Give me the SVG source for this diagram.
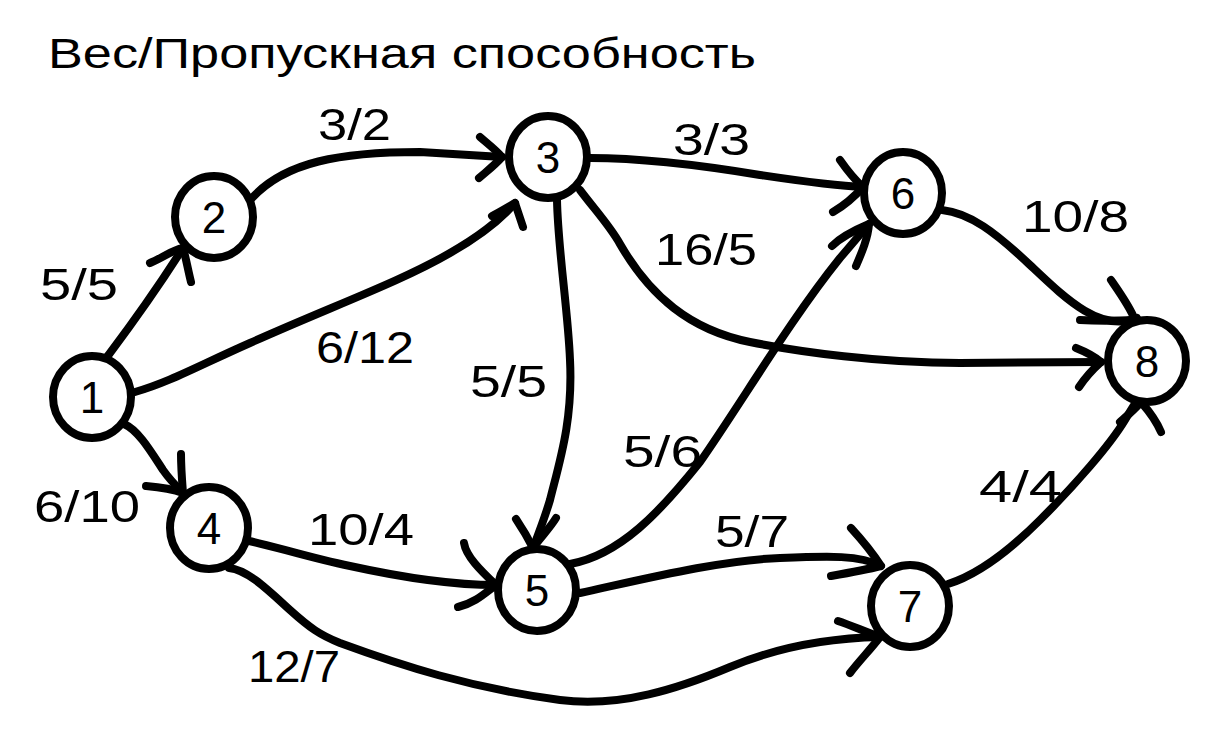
<svg xmlns="http://www.w3.org/2000/svg" width="1220" height="738" viewBox="0 0 1220 738">
<style>
.bg{fill:#fff}
.node ellipse{fill:#fff;stroke:#000;stroke-width:8}
.node text{font-family:"Liberation Sans","DejaVu Sans",sans-serif;font-size:44px;fill:#000;text-anchor:middle}
.edges path{fill:none;stroke:#000;stroke-width:8;stroke-linecap:round;stroke-linejoin:round}
.lbl{font-family:"Liberation Sans","DejaVu Sans",sans-serif;font-size:44px;fill:#000}
.title{font-family:"Liberation Sans","DejaVu Sans",sans-serif;font-size:43px;fill:#000}
</style>
<rect class="bg" x="0" y="0" width="1220" height="738"/>
<text class="title" x="48" y="68" textLength="708" lengthAdjust="spacingAndGlyphs">Вес/Пропускная способность</text>

<g id="connectors" class="edges">
  <!-- 1 -> 2 -->
  <path d="M107,357 C125,333 150,300 183,248"/>
  <path d="M150,263 C162,258 172,250 183,248 C186,258 188,270 191,282"/>
  <!-- 2 -> 3 -->
  <path d="M252,198 C285,162 340,152 420,152 L502,157"/>
  <path d="M480,137 C488,144 496,150 502,157 C495,165 487,171 479,178"/>
  <!-- 1 -> 3 -->
  <path d="M135,392 C170,382 200,365 250,343 C330,307 400,282 450,253 C480,236 502,218 515,203"/>
  <path d="M492,216 C500,212 508,207 515,203 C518,212 520,218 523,227"/>
  <!-- 3 -> 5 -->
  <path d="M557,200 C558,250 568,310 570,360 C573,420 560,460 550,500 C544,520 538,535 533,548"/>
  <path d="M516,519 C522,528 528,538 533,548 C540,538 550,528 556,518"/>
  <!-- 3 -> 6 -->
  <path d="M590,158 C640,158 700,165 760,175 C800,181 835,186 863,187"/>
  <path d="M840,160 C847,170 855,180 863,187 C856,195 845,205 833,212"/>
  <!-- 3 -> 8 -->
  <path d="M580,190 C595,210 610,226 620,244 C650,296 690,330 750,342 C800,352 880,363 960,363 L1101,362"/>
  <path d="M1076,348 C1086,352 1094,356 1101,362 C1092,370 1085,378 1079,387"/>
  <!-- 6 -> 8 -->
  <path d="M942,210 C970,213 995,232 1030,265 C1065,298 1100,333 1137,318"/>
  <path d="M1111,280 C1120,293 1130,307 1135,320 C1115,321 1095,321 1080,320"/>
  <!-- 5 -> 6 -->
  <path d="M570,564 C620,555 660,512 700,462 C740,405 790,320 840,258 L869,224"/>
  <path d="M832,246 C840,238 850,232 869,224 C868,238 862,252 856,266"/>
  <!-- 5 -> 7 -->
  <path d="M580,593 C640,580 720,560 780,558 C830,556 860,555 881,566"/>
  <path d="M851,528 C862,540 872,552 881,566 C865,570 848,573 831,576"/>
  <!-- 4 -> 5 -->
  <path d="M249,541 C270,545 310,558 350,566 C400,577 450,585 496,585"/>
  <path d="M464,543 C466,556 480,570 496,585 C485,593 475,603 458,607"/>
  <!-- 1 -> 4 -->
  <path d="M124,424 C138,430 150,450 163,470 C170,480 177,487 183,493"/>
  <path d="M181,454 C181,468 182,480 183,493 C170,488 158,487 146,486"/>
  <!-- 4 -> 7 -->
  <path d="M229,568 C248,570 268,590 290,610 C310,628 320,635 340,643 C400,665 470,688 560,700 C620,708 680,688 730,667 C780,646 830,638 880,637"/>
  <path d="M838,621 C850,625 866,632 880,637 C870,650 860,660 850,673"/>
  <!-- 7 -> 8 -->
  <path d="M948,584 C980,574 1010,550 1040,520 C1075,485 1110,445 1125,420 C1133,407 1138,396 1141,402"/>
  <path d="M1120,422 C1128,415 1134,410 1141,402 C1148,410 1156,420 1161,432"/>
</g>

<g id="edge-labels">
  <text class="lbl" x="40" y="300" textLength="78" lengthAdjust="spacingAndGlyphs">5/5</text>
  <text class="lbl" x="318" y="140" textLength="73" lengthAdjust="spacingAndGlyphs">3/2</text>
  <text class="lbl" x="316" y="363" textLength="98" lengthAdjust="spacingAndGlyphs">6/12</text>
  <text class="lbl" x="470" y="397" textLength="77" lengthAdjust="spacingAndGlyphs">5/5</text>
  <text class="lbl" x="673" y="155" textLength="77" lengthAdjust="spacingAndGlyphs">3/3</text>
  <text class="lbl" x="655" y="265" textLength="102" lengthAdjust="spacingAndGlyphs">16/5</text>
  <text class="lbl" x="1022" y="232" textLength="107" lengthAdjust="spacingAndGlyphs">10/8</text>
  <text class="lbl" x="623" y="467" textLength="79" lengthAdjust="spacingAndGlyphs">5/6</text>
  <text class="lbl" x="715" y="547" textLength="74" lengthAdjust="spacingAndGlyphs">5/7</text>
  <text class="lbl" x="308" y="545" textLength="106" lengthAdjust="spacingAndGlyphs">10/4</text>
  <text class="lbl" x="34" y="522" textLength="106" lengthAdjust="spacingAndGlyphs">6/10</text>
  <text class="lbl" x="248" y="682" textLength="92" lengthAdjust="spacingAndGlyphs">12/7</text>
  <text class="lbl" x="979" y="502" textLength="83" lengthAdjust="spacingAndGlyphs">4/4</text>
</g>

<g id="node-1" class="node"><ellipse cx="92" cy="397" rx="39" ry="41"/><text x="92" y="413">1</text></g>
<g id="node-2" class="node"><ellipse cx="214" cy="217" rx="39" ry="41"/><text x="214" y="233">2</text></g>
<g id="node-3" class="node"><ellipse cx="548" cy="157" rx="39" ry="41"/><text x="548" y="173">3</text></g>
<g id="node-4" class="node"><ellipse cx="209" cy="528" rx="39" ry="41"/><text x="209" y="544">4</text></g>
<g id="node-5" class="node"><ellipse cx="537" cy="590" rx="39" ry="41"/><text x="537" y="606">5</text></g>
<g id="node-6" class="node"><ellipse cx="903" cy="193" rx="39" ry="41"/><text x="903" y="209">6</text></g>
<g id="node-7" class="node"><ellipse cx="910" cy="606" rx="39" ry="41"/><text x="910" y="622">7</text></g>
<g id="node-8" class="node"><ellipse cx="1147" cy="361" rx="39" ry="41"/><text x="1147" y="377">8</text></g>
</svg>
